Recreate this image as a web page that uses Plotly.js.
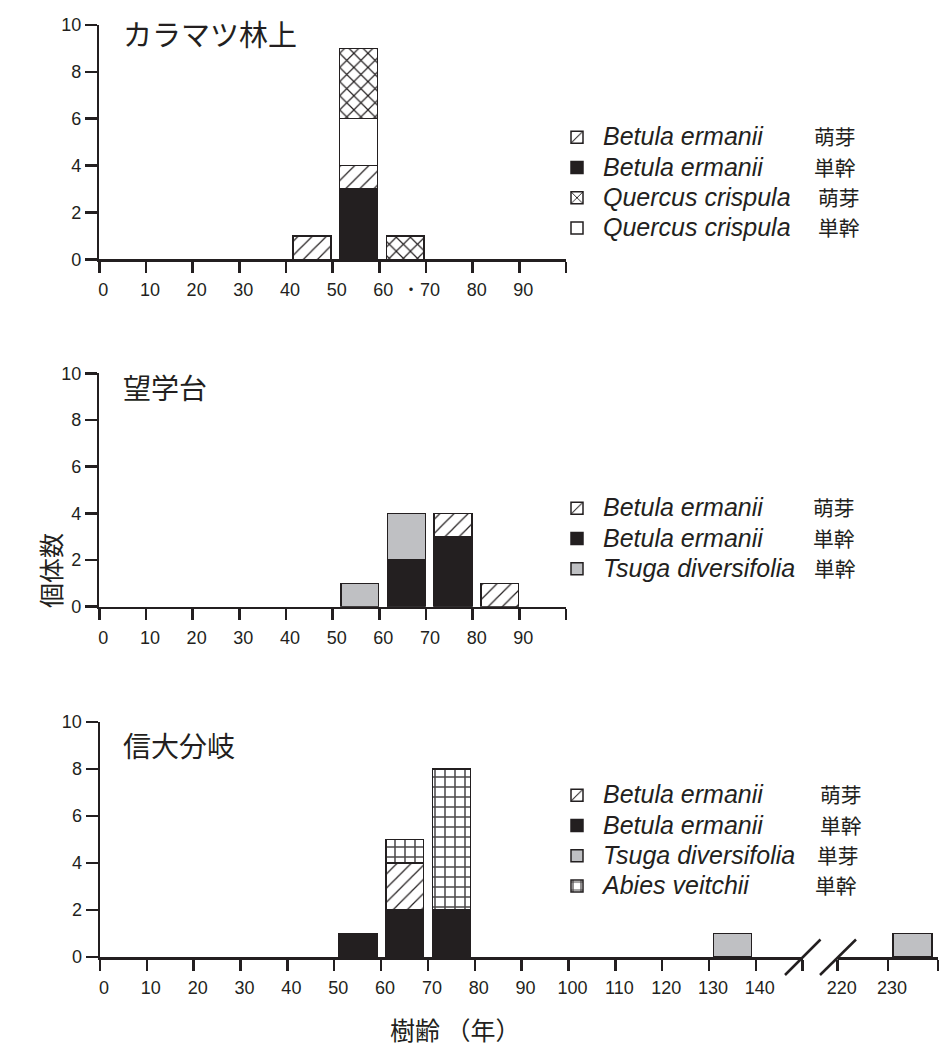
<!DOCTYPE html>
<html><head><meta charset="utf-8">
<script src="https://cdn.plot.ly/plotly-3.0.1.min.js"></script>
<style>html,body{margin:0;padding:0;background:#fff}</style>
</head><body><div id="chart" style="width:939px;height:1059px"></div>
<script>
// ---------------- data ----------------
// x = start of 10-year age class (bar covers the class)
const ageClassesTop = [40, 50, 60];
const topBetulaSprout  = [1, 1, 0];   // Betula ermanii 萌芽
const topBetulaSingle  = [0, 3, 0];   // Betula ermanii 単幹
const topQuercusSprout = [0, 3, 1];   // Quercus crispula 萌芽
const topQuercusSingle = [0, 2, 0];   // Quercus crispula 単幹

const ageClassesMid = [50, 60, 70, 80];
const midBetulaSprout = [0, 0, 1, 1];
const midBetulaSingle = [0, 2, 3, 0];
const midTsugaSingle  = [1, 2, 0, 0];

const ageClassesBot = [50, 60, 70, 130];
const botBetulaSprout = [0, 2, 0, 0];
const botBetulaSingle = [1, 2, 2, 0];
const botTsuga        = [0, 0, 0, 1];
const botAbiesSingle  = [0, 1, 6, 0];
const ageClassesBotFar = [230];
const botTsugaFar      = [1];

const panelTitles = ['カラマツ林上', '望学台', '信大分岐'];
const yTickVals = [0, 2, 4, 6, 8, 10];
const xTickValsMain = [0,10,20,30,40,50,60,70,80,90,100];
const xTickTextMain = ['0','10','20','30','40','50','60','70','80','90',''];
const xTickValsBot = [0,10,20,30,40,50,60,70,80,90,100,110,120,130,140,150];
const xTickTextBot = ['0','10','20','30','40','50','60','70','80','90','100','110','120','130','140',''];
const xTickValsFar = [220, 230, 240];
const xTickTextFar = ['220', '230', ''];
const yTitle = '個体数';
const xTitle = '樹齢 （年）';

// ---------------- style ----------------
const W = 939, H = 1059;
const px = v => v / W, py = v => 1 - v / H;
const INK = '#231f20', GREY = '#bfc0c3';
const LATIN = 'Liberation Sans, Arial, Noto Sans CJK JP';
const CJK = 'Noto Sans CJK JP, Liberation Sans';

const ctx = document.createElement('canvas').getContext('2d');
ctx.font = 'italic 25px "Liberation Sans"';
function legendName(latin, jp, col) {
  const w = ctx.measureText(latin).width;
  const nbW = ctx.measureText('\u00a0').width || 6.95;
  const gap = Math.max(0, col - w);
  const n = Math.floor(gap / nbW);
  const r = gap - n * nbW;
  let s = '<span style="font-size:25px"><i>' + latin + '</i>' + '\u00a0'.repeat(n) + '</span>';
  if (r > 0.5) s += '<span style="font-size:' + (25 * r / nbW).toFixed(2) + 'px">\u00a0</span>';
  s += '<span style="font-size:20.8px;font-family:Noto Sans CJK JP">' + jp + '</span>';
  return s;
}

const styles = {
  betulaSprout: {color: 'white', line: {color: INK, width: 1.5},
                 pattern: {shape: '/', size: 10, solidity: 0.12, fgcolor: INK, bgcolor: 'white', fillmode: 'replace'}},
  betulaSingle: {color: INK, line: {color: INK, width: 1.5}},
  quercusSprout:{color: 'white', line: {color: INK, width: 1.5},
                 pattern: {shape: 'x', size: 10, solidity: 0.22, fgcolor: INK, bgcolor: 'white', fillmode: 'replace'}},
  quercusSingle:{color: 'white', line: {color: INK, width: 1.5}},
  tsuga:        {color: GREY, line: {color: INK, width: 1.5}},
  abies:        {color: 'white', line: {color: INK, width: 1.5},
                 pattern: {shape: '+', size: 10, solidity: 0.28, fgcolor: '#4a4748', bgcolor: 'white', fillmode: 'replace'}}
};

function bar(x, y, st, name, xa, ya, leg, rank, offset, width, extra) {
  return Object.assign({
    type: 'bar', x: x, y: y, name: name, marker: styles[st],
    xaxis: xa, yaxis: ya, legend: leg, legendrank: rank,
    offset: offset, width: width, hoverinfo: 'skip'
  }, extra || {});
}

const BW = 8.1;
const traces = [
  // top panel (stack order bottom→top)
  bar(ageClassesTop, topBetulaSingle,  'betulaSingle',  legendName('Betula ermanii', '単幹', 211), 'x', 'y', 'legend', 2, 1.5, BW),
  bar(ageClassesTop, topBetulaSprout,  'betulaSprout',  legendName('Betula ermanii', '萌芽', 211), 'x', 'y', 'legend', 1, 1.5, BW),
  bar(ageClassesTop, topQuercusSingle, 'quercusSingle', legendName('Quercus crispula', '単幹', 215), 'x', 'y', 'legend', 4, 1.5, BW),
  bar(ageClassesTop, topQuercusSprout, 'quercusSprout', legendName('Quercus crispula', '萌芽', 215), 'x', 'y', 'legend', 3, 1.5, BW),
  // middle panel
  bar(ageClassesMid, midBetulaSingle, 'betulaSingle', legendName('Betula ermanii', '単幹', 210), 'x2', 'y2', 'legend2', 2, 1.75, BW),
  bar(ageClassesMid, midBetulaSprout, 'betulaSprout', legendName('Betula ermanii', '萌芽', 210), 'x2', 'y2', 'legend2', 1, 1.75, BW),
  bar(ageClassesMid, midTsugaSingle,  'tsuga',        legendName('Tsuga diversifolia', '単幹', 211), 'x2', 'y2', 'legend2', 3, 1.75, BW),
  // bottom panel
  bar(ageClassesBot, botBetulaSingle, 'betulaSingle', legendName('Betula ermanii', '単幹', 217), 'x3', 'y3', 'legend3', 2, 1.0, BW),
  bar(ageClassesBot, botBetulaSprout, 'betulaSprout', legendName('Betula ermanii', '萌芽', 217), 'x3', 'y3', 'legend3', 1, 1.0, BW),
  bar(ageClassesBot, botTsuga,        'tsuga',        legendName('Tsuga diversifolia', '単芽', 214), 'x3', 'y3', 'legend3', 3, 1.0, BW, {legendgroup: 'tsugaBot'}),
  bar(ageClassesBot, botAbiesSingle,  'abies',        legendName('Abies veitchii', '単幹', 212), 'x3', 'y3', 'legend3', 4, 1.0, BW),
  bar(ageClassesBotFar, botTsugaFar,  'tsuga',        'Tsuga diversifolia', 'x4', 'y3', 'legend3', 5, 0.95, 7.8, {legendgroup: 'tsugaBot', showlegend: false})
];

const tickFont = {family: LATIN, size: 18, color: INK};
const axBase = {showline: true, linecolor: INK, linewidth: 2.5, ticks: 'outside', tickcolor: INK,
  tickwidth: 2.5, showgrid: false, zeroline: false, tickfont: tickFont, fixedrange: true, tickmode: 'array'};
const xBase = Object.assign({}, axBase, {ticklen: 11, ticklabelstandoff: 2, ticklabelshift: 4});
const yBase = Object.assign({}, axBase, {ticklen: 12, range: [0, 10], tickvals: yTickVals, ticktext: yTickVals.map(String)});

const panelY = [[259.3, 25], [606.7, 373.3], [957, 722]]; // px of y=0, y=10

const legBase = {xanchor: 'left', yanchor: 'top', traceorder: 'normal', bgcolor: 'rgba(0,0,0,0)', itemwidth: 42,
  font: {family: LATIN, size: 21, color: INK}, itemclick: false, itemdoubleclick: false};

const layout = {
  width: W, height: H, margin: {l: 0, r: 0, t: 0, b: 0},
  paper_bgcolor: 'white', plot_bgcolor: 'rgba(0,0,0,0)',
  barmode: 'stack', showlegend: true,
  font: {family: LATIN, color: INK},
  xaxis: Object.assign({}, xBase, {domain: [px(99.3), px(566)], range: [0, 100], anchor: 'y', tickvals: xTickValsMain, ticktext: xTickTextMain}),
  yaxis: Object.assign({}, yBase, {domain: [py(panelY[0][0]), py(panelY[0][1])], anchor: 'x'}),
  xaxis2: Object.assign({}, xBase, {domain: [px(99.3), px(566)], range: [0, 100], anchor: 'y2', tickvals: xTickValsMain, ticktext: xTickTextMain}),
  yaxis2: Object.assign({}, yBase, {domain: [py(panelY[1][0]), py(panelY[1][1])], anchor: 'x2'}),
  xaxis3: Object.assign({}, xBase, {domain: [px(100), px(802.7)], range: [0, 150], anchor: 'y3', tickvals: xTickValsBot, ticktext: xTickTextBot}),
  yaxis3: Object.assign({}, yBase, {domain: [py(panelY[2][0]), py(panelY[2][1])], anchor: 'x3'}),
  xaxis4: Object.assign({}, xBase, {domain: [px(837.7), px(938.3)], range: [220, 240], anchor: 'y3', tickvals: xTickValsFar, ticktext: xTickTextFar}),
  legend:  Object.assign({}, legBase, {x: px(551), y: py(117)}),
  legend2: Object.assign({}, legBase, {x: px(551), y: py(488)}),
  legend3: Object.assign({}, legBase, {x: px(551), y: py(775)}),
  annotations: [
    {text: panelTitles[0], x: px(121), y: py(33), xref: 'paper', yref: 'paper', xanchor: 'left', yanchor: 'middle', showarrow: false, font: {family: CJK, size: 29, color: INK}},
    {text: panelTitles[1], x: px(121), y: py(387), xref: 'paper', yref: 'paper', xanchor: 'left', yanchor: 'middle', showarrow: false, font: {family: CJK, size: 28, color: INK}},
    {text: panelTitles[2], x: px(121), y: py(745), xref: 'paper', yref: 'paper', xanchor: 'left', yanchor: 'middle', showarrow: false, font: {family: CJK, size: 28, color: INK}},
    {text: yTitle, x: px(50), y: py(571), xref: 'paper', yref: 'paper', xanchor: 'center', yanchor: 'middle', textangle: -90, showarrow: false, font: {family: CJK, size: 25, color: INK}},
    {text: xTitle, x: px(455), y: py(1029), xref: 'paper', yref: 'paper', xanchor: 'center', yanchor: 'middle', showarrow: false, font: {family: CJK, size: 25, color: INK}},
    {text: '・', x: px(411), y: py(288), xref: 'paper', yref: 'paper', xanchor: 'center', yanchor: 'middle', showarrow: false, font: {family: CJK, size: 16, color: INK}}
  ],
  shapes: [
    {type: 'line', xref: 'paper', yref: 'paper', x0: px(785), y0: py(975), x1: px(820.5), y1: py(939.5), line: {color: INK, width: 2.5}},
    {type: 'line', xref: 'paper', yref: 'paper', x0: px(820), y0: py(975), x1: px(856), y1: py(939.5), line: {color: INK, width: 2.5}}
  ]
};

Plotly.newPlot('chart', traces, layout, {staticPlot: true, displayModeBar: false});
</script>
</body></html>
